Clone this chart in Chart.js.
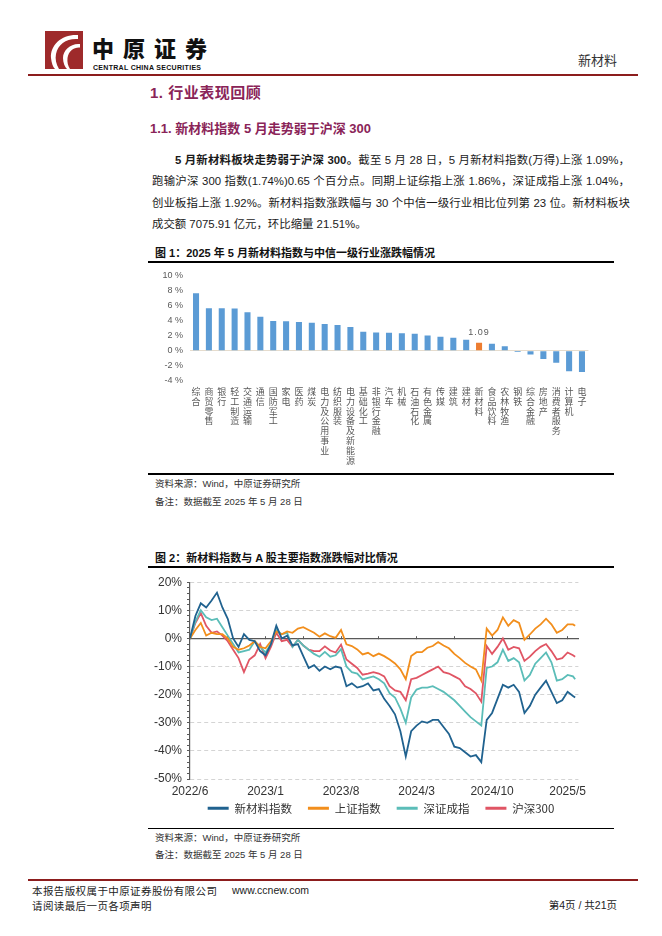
<!DOCTYPE html>
<html lang="zh-CN">
<head>
<meta charset="utf-8">
<title>新材料 - 行业表现回顾</title>
<script src="https://cdn.jsdelivr.net/npm/chart.js@4.4.1/dist/chart.umd.min.js"></script>
<style>
  html, body { margin: 0; padding: 0; background: #fff; }
  body {
    position: relative; width: 662px; height: 936px; overflow: hidden;
    font-family: "Liberation Sans", "Noto Sans CJK SC", sans-serif; color: #1a1a1a;
  }
  .abs { position: absolute; white-space: nowrap; }
  .rule { position: absolute; background: #000; }
  .brand-rule { position: absolute; background: #8c1d1d; }
  .heading { color: #8a2458; font-weight: bold; }
  .para { position: absolute; font-size: 11.4px; line-height: 16px; text-align: justify; text-align-last: justify; }
  .figtitle { font-size: 11px; font-weight: bold; color: #111; line-height: 14px; }
  .note { font-size: 9.5px; color: #333; line-height: 12px; }
  .foot { font-size: 10.5px; color: #222; line-height: 13px; }
  canvas { position: absolute; }
</style>
</head>
<body>

<!-- 页眉 -->
<svg class="abs" style="left:45px; top:31px" width="38" height="38" viewBox="0 0 38 38">
  <rect width="38" height="38" fill="#9e2a2b"/>
  <path d="M33 4 C17 3 5 14 6 27 C6.5 32 8 36 10 38 L14 38 C11 33 10 28 11 23 C13 13 22 7 33 8 Z" fill="#fff"/>
  <path d="M35 13 C26 12 18 19 18 27 C18 32 20 36 22 38 L25 38 C23 35 22 31 22.5 27 C23.5 20 29 16 35 16.5 Z" fill="#fff"/>
</svg>
<div class="abs" style="left:92px; top:35px; font-family:'Noto Sans CJK SC'; font-weight:900; font-size:22px; line-height:24px; letter-spacing:9px; color:#111">中原证券</div>
<div class="abs" style="left:93px; top:64px; font-weight:bold; font-size:7px; line-height:8px; letter-spacing:0.3px; color:#111">CENTRAL CHINA SECURITIES</div>
<div class="abs" style="right:45px; top:52px; font-size:13px; line-height:16px; color:#333; font-family:'Noto Sans CJK SC'">新材料</div>
<div class="brand-rule" style="left:28px; top:74px; width:610px; height:2px"></div>

<!-- 正文 -->
<div class="abs heading" style="left:150px; top:83px; font-size:15px; line-height:19px; letter-spacing:0.5px">1. 行业表现回顾</div>
<div class="abs heading" style="left:150px; top:119.5px; font-size:13px; line-height:17px">1.1. 新材料指数 5 月走势弱于沪深 300</div>

<div class="para" style="left:175px; top:152px; width:455px"><b>5 月新材料板块走势弱于沪深 300。</b>截至 5 月 28 日，5 月新材料指数(万得)上涨 1.09%，</div>
<div class="para" style="left:152px; top:173.3px; width:478px">跑输沪深 300 指数(1.74%)0.65 个百分点。同期上证综指上涨 1.86%，深证成指上涨 1.04%，</div>
<div class="para" style="left:152px; top:194.6px; width:478px">创业板指上涨 1.92%。新材料指数涨跌幅与 30 个中信一级行业相比位列第 23 位。新材料板块</div>
<div class="para" style="left:152px; top:216px; width:478px; text-align-last:left">成交额 7075.91 亿元，环比缩量 21.51%。</div>

<!-- 图1 -->
<div class="abs figtitle" style="left:155px; top:246px">图 1：2025 年 5 月新材料指数与中信一级行业涨跌幅情况</div>
<div class="rule" style="left:148px; top:261px; width:466px; height:2px"></div>
<canvas id="barChart" width="466" height="206" style="left:148px; top:264px"></canvas>
<div class="rule" style="left:148px; top:473px; width:466px; height:1.5px"></div>
<div class="abs note" style="left:155px; top:478px">资料来源：Wind，中原证券研究所</div>
<div class="abs note" style="left:155px; top:496px">备注：数据截至 2025 年 5 月 28 日</div>

<!-- 图2 -->
<div class="abs figtitle" style="left:155px; top:551px">图 2：新材料指数与 A 股主要指数涨跌幅对比情况</div>
<div class="rule" style="left:148px; top:566px; width:466px; height:2px"></div>
<canvas id="lineChart" width="466" height="255" style="left:148px; top:570px"></canvas>
<div class="rule" style="left:148px; top:827.5px; width:466px; height:1.5px"></div>
<div class="abs note" style="left:155px; top:832px">资料来源：Wind，中原证券研究所</div>
<div class="abs note" style="left:155px; top:849px">备注：数据截至 2025 年 5 月 28 日</div>

<!-- 页脚 -->
<div class="brand-rule" style="left:28px; top:879px; width:610px; height:1.5px"></div>
<div class="abs foot" style="left:32px; top:883.5px; font-family:'Noto Sans CJK SC'; letter-spacing:0.4px">本报告版权属于中原证券股份有限公司</div>
<div class="abs foot" style="left:232px; top:883.5px">www.ccnew.com</div>
<div class="abs foot" style="left:32px; top:898.5px; font-family:'Noto Sans CJK SC'; letter-spacing:0.4px">请阅读最后一页各项声明</div>
<div class="abs foot" style="right:45px; top:898.5px">第4页 / 共21页</div>

<script>
// ---- 图1：2025年5月各行业涨跌幅(%) ----
const industries = [
  "综合", "商贸零售", "银行", "轻工制造", "交通运输", "通信", "国防军工", "家电",
  "医药", "煤炭", "电力及公用事业", "纺织服装", "电力设备及新能源", "基础化工",
  "非银行金融", "汽车", "机械", "石油石化", "有色金属", "传媒", "建筑", "建材",
  "新材料", "食品饮料", "农林牧渔", "钢铁", "综合金融", "房地产", "消费者服务",
  "计算机", "电子",
];
const industryChange = [
  7.7, 5.7, 5.7, 5.65, 5.15, 4.55, 3.97, 3.95, 3.84, 3.75, 3.58, 3.45, 3.19, 2.53,
  2.45, 2.4, 2.36, 2.27, 2.05, 1.88, 1.75, 1.48, 1.09, 0.95, 0.6, -0.15, -0.5, -1.1,
  -1.6, -2.75, -2.85,
];
const highlight = "新材料";

// ---- 图2：区间累计涨跌幅(%) ----
const xTickLabels = ["2022/6", "2023/1", "2023/8", "2024/3", "2024/10", "2025/5"];
// 观测点：自2022/6/1起的月数，每半月一个点，末点为2025/5/28
const months = [];
for (let i = 0; i < 72; i++) months.push(i / 2);
months.push(35.7);

const newMaterial = [
  0, 8, 12.5, 11, 13.5, 16.3, 11, 7, 0, -3,
  1.5, -0.5, -1, -4.5, -6, -2, 4.5, 0, 1, -2.5,
  -2, -6.3, -10.5, -9.5, -11.5, -10, -11, -10, -10.5, -17,
  -16, -17.5, -17, -16, -18.5, -18, -21.5, -24, -27, -33,
  -42, -33, -31, -29.5, -30, -29, -29, -31.5, -34, -38.5,
  -39, -40.5, -42, -41.5, -44, -29, -26.5, -21.5, -16.5, -17.5,
  -16.5, -19, -26.5, -24, -20, -17.5, -15, -19, -23, -22,
  -19, -20.5, -21,
];
const shIndex = [
  0, 3, 5.5, 1, 2, 1.5, 1.5, 0, -3, -4,
  -3.5, -2.5, -1, -3, -3.5, -1, 2.5, 1.5, 2.5, 2,
  3.5, 4, 3, 2, 0.6, 1.8, 0.8, 0.2, 3, -2.1,
  -2.7, -3.9, -5.7, -5.1, -6.3, -5.4, -6.3, -7.5, -8.9, -11,
  -14.5, -6.3, -4.9, -4.9, -3.3, -2.7, -1.3, -2.5, -3.5, -5.5,
  -7, -8.7, -10, -11, -15, 3.5, 1, 3, 7.5, 4.5,
  6.5, 5.5, -0.5, 1.4, 3.5, 5, 7, 5, 2, 3,
  5, 5, 4.5,
];
const szIndex = [
  0, 6, 10, 7.5, 6.5, 7, 4, 1, -2, -5,
  -4.5, -4, -1, -3, -5, -2, 3, 1.5, 2, -3,
  -0.5, -2.5, -4, -5.5, -6.5, -4.8, -6.5, -6, -3.8, -10,
  -12, -12.5, -14.6, -14, -13.5, -14.5, -16, -19.5, -21, -25,
  -30, -21, -18.2, -17.5, -17.5, -17, -18, -19, -20.5, -22,
  -24, -26, -28, -29.5, -31, -10.5, -10, -8.5, -4, -8,
  -7, -8.5, -15, -13, -9, -7, -5, -8.5, -15, -14.5,
  -13, -13.5, -14.5,
];
const hs300 = [
  0, 5.5, 9, 4.5, 2, 2.5, 1, -1, -4, -7,
  -12, -7.5, -6, -2, -7, -3, 2, -1, -0.5, -3,
  -0.5, -2.5, -4, -4.5, -4.5, -2.8, -4.3, -5, -2.2, -7.5,
  -9, -10.5, -12.9, -12.5, -12, -12.5, -13.5, -17, -18.5, -19,
  -22, -14.5, -14, -13, -12, -11, -10, -12, -12.5, -13.5,
  -14.5, -17, -18, -19.5, -22.5, -2.7, -5.5, -3, 0, -4,
  -3, -3.5, -8, -6.5, -4.5, -3, -2, -4.5, -7.5, -7,
  -5, -6, -6.5,
];

Chart.defaults.font.family = '"Liberation Sans", "Noto Sans CJK SC", sans-serif';
Chart.defaults.animation = false;

const cjkFont = '"Noto Sans CJK SC"';
const toPoints = (values) => values.map((v, i) => ({ x: months[i], y: v }));

// 新材料柱子上方的数值
const barLabelPlugin = {
  id: "barLabel",
  afterDatasetsDraw(chart) {
    const i = industries.indexOf(highlight);
    const bar = chart.getDatasetMeta(0).data[i];
    const { ctx } = chart;
    ctx.save();
    ctx.font = '9px "Liberation Sans"';
    ctx.letterSpacing = "1px";
    ctx.fillStyle = "#595959";
    ctx.textAlign = "center";
    ctx.textBaseline = "bottom";
    ctx.fillText(industryChange[i].toFixed(2), bar.x, bar.y - 6);
    ctx.restore();
  },
};

new Chart(document.getElementById("barChart"), {
  type: "bar",
  data: {
    labels: industries.map((name) => name.split("")),
    datasets: [
      {
        data: industryChange,
        backgroundColor: industries.map((name) => (name === highlight ? "#ed7d31" : "#5b9bd5")),
        barPercentage: 0.47,
        categoryPercentage: 1,
      },
    ],
  },
  options: {
    responsive: false,
    layout: { padding: { top: 9, right: 25.6, left: 0, bottom: 0 } },
    plugins: { legend: { display: false }, tooltip: { enabled: false } },
    scales: {
      x: {
        grid: { display: false, drawTicks: false },
        border: { display: false },
        ticks: {
          autoSkip: false, maxRotation: 0, minRotation: 0, padding: 6, color: "#595959",
          font: { family: cjkFont, size: 9, lineHeight: 1.09 },
        },
        afterFit: (s) => { s.height = 89.3; },
      },
      y: {
        min: -4,
        max: 10,
        ticks: { stepSize: 2, padding: 6.6, color: "#595959", font: { size: 9 }, callback: (v) => v + " %" },
        grid: {
          drawTicks: false,
          color: (c) => (c.tick && c.tick.value === 0 ? "#e6dccd" : "transparent"),
        },
        border: { display: false },
        afterFit: (s) => { s.width = 41.6; },
      },
    },
  },
  plugins: [barLabelPlugin],
});

new Chart(document.getElementById("lineChart"), {
  type: "line",
  data: {
    datasets: [
      { label: "新材料指数", data: toPoints(newMaterial), borderColor: "#20628f", backgroundColor: "#20628f" },
      { label: "上证指数", data: toPoints(shIndex), borderColor: "#f28e1c", backgroundColor: "#f28e1c" },
      { label: "深证成指", data: toPoints(szIndex), borderColor: "#5bbdb8", backgroundColor: "#5bbdb8" },
      { label: "沪深300", data: toPoints(hs300), borderColor: "#e05564", backgroundColor: "#e05564" },
    ],
  },
  options: {
    responsive: false,
    layout: { padding: { top: 11, right: 0, left: 0, bottom: 1 } },
    elements: { point: { radius: 0 }, line: { borderWidth: 1.8, tension: 0 } },
    plugins: {
      tooltip: { enabled: false },
      legend: {
        position: "bottom",
        labels: {
          boxWidth: 21, boxHeight: 3, padding: 16, color: "#333",
          font: { family: cjkFont, size: 11.5 },
          generateLabels: (chart) =>
            Chart.defaults.plugins.legend.labels.generateLabels(chart).map((item) => ({ ...item, lineWidth: 0 })),
        },
      },
    },
    scales: {
      x: {
        type: "linear",
        min: 0,
        max: 36,
        grid: { display: false, drawTicks: false },
        border: { display: false },
        // mirror keeps the labels unclipped while the axis box stays short
        ticks: {
          stepSize: 7, includeBounds: false, mirror: true, padding: -19.4, color: "#333", font: { size: 12 },
          callback: (v) => xTickLabels[v / 7],
        },
        afterFit: (s) => { s.height = 7.5; },
      },
      zero: {
        type: "linear",
        axis: "x",
        position: { y: 0 },
        min: 0,
        max: 36,
        grid: { drawOnChartArea: false, tickLength: -3, tickColor: "#595959", tickWidth: 1 },
        border: { color: "#595959", width: 1.2 },
        ticks: { display: false, stepSize: 3.5, includeBounds: false },
        afterFit: (s) => { s.height = 0; },
      },
      y: {
        min: -50,
        max: 20,
        ticks: {
          stepSize: 2, autoSkip: false, padding: 5, color: "#333", font: { size: 12 },
          callback: (v) => (v % 10 === 0 ? v + "%" : ""),
        },
        grid: {
          color: (c) => (c.tick && c.tick.value % 10 === 0 && c.tick.value !== 0 ? "#d4d4d4" : "transparent"),
          tickColor: "#595959",
          tickLength: 3,
        },
        border: { color: "#595959", width: 1.2, dash: [4, 3] },
        afterFit: (s) => { s.width = 42; },
      },
      right: {
        type: "linear",
        position: "right",
        grid: { display: false, drawTicks: false },
        border: { display: false },
        ticks: { display: false },
        afterFit: (s) => { s.width = 35.6; },
      },
    },
  },
});
</script>
</body>
</html>
